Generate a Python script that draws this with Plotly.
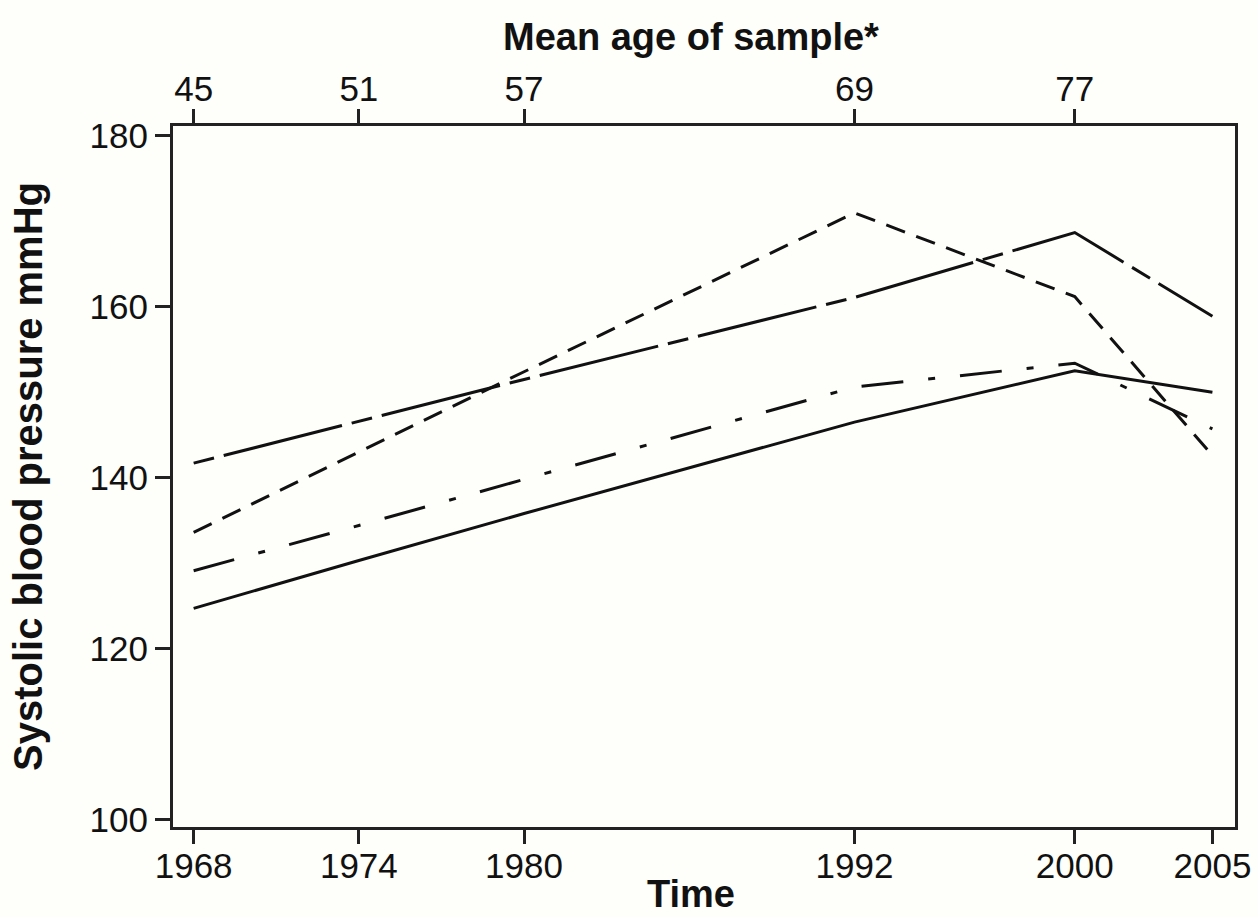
import plotly.graph_objects as go

years = [1968, 1974, 1980, 1992, 2000, 2005]
age_ticks_years = [1968, 1974, 1980, 1992, 2000]
age_labels = ["45", "51", "57", "69", "77"]

series_longshort = [141.7, 146.6, 151.5, 161.1, 168.7, 158.9]
series_shortdash = [133.6, 143.0, 152.4, 171.0, 161.2, 142.6]
series_dashdot = [129.1, 134.4, 139.8, 150.6, 153.4, 145.7]
series_solid = [124.7, 130.3, 135.8, 146.5, 152.5, 150.0]

y_ticks = [100, 120, 140, 160, 180]

FONT = "Liberation Sans, Arial, sans-serif"
INK = "#111111"
AX = "#222222"
BG = "#fefefa"

fig = go.Figure()

styles = [
    (series_longshort, "21px,10px,122px,10px"),
    (series_shortdash, "20px,12px"),
    (series_dashdot, "42px,25px,7px,25px"),
    (series_solid, "solid"),
]
for vals, dash in styles:
    fig.add_trace(go.Scatter(
        x=years, y=vals, mode="lines",
        line=dict(color=INK, width=3, dash=dash),
        showlegend=False, hoverinfo="skip",
    ))

# invisible trace to anchor the top (age) axis
fig.add_trace(go.Scatter(
    x=age_ticks_years, y=[None] * len(age_ticks_years), xaxis="x2", mode="lines",
    showlegend=False, hoverinfo="skip",
))

xr = [1967.25, 2005.82]

fig.update_layout(
    width=1258, height=917,
    margin=dict(l=173, r=23, t=126, b=90, pad=0),
    paper_bgcolor=BG, plot_bgcolor=BG,
    font=dict(family=FONT, color=INK),
    xaxis=dict(
        range=xr, tickmode="array", tickvals=years, ticktext=[str(y) for y in years],
        showgrid=False, zeroline=False, showline=True, linewidth=3, linecolor=AX,
        ticks="outside", ticklen=14, tickwidth=3, tickcolor=AX,
        tickfont=dict(size=35, family=FONT, color=INK), ticklabelstandoff=-8,
        automargin=False,
    ),
    xaxis2=dict(
        range=xr, overlaying="x", side="top", anchor="y",
        tickmode="array", tickvals=age_ticks_years, ticktext=age_labels,
        showgrid=False, zeroline=False, showline=True, linewidth=3, linecolor=AX,
        ticks="outside", ticklen=14, tickwidth=3, tickcolor=AX,
        tickfont=dict(size=35, family=FONT, color=INK), ticklabelstandoff=-6,
        automargin=False,
    ),
    yaxis=dict(
        range=[99.10, 181.17], tickmode="array", tickvals=y_ticks,
        showgrid=False, zeroline=False, showline=True, linewidth=3, linecolor=AX, mirror=True,
        ticks="outside", ticklen=15, tickwidth=3, tickcolor=AX,
        tickfont=dict(size=35, family=FONT, color=INK), ticklabelstandoff=0,
        title=dict(text="<b>Systolic blood pressure mmHg</b>", font=dict(size=40, family=FONT, color=INK), standoff=35),
        automargin=False,
    ),
    annotations=[
        dict(
            text="<b>Mean age of sample*</b>", xref="paper", yref="paper",
            x=0.488, y=1.127, xanchor="center", yanchor="middle", showarrow=False,
            font=dict(size=38, family=FONT, color=INK),
        ),
        dict(
            text="<b>Time</b>", xref="paper", yref="paper",
            x=0.488, y=-0.096, xanchor="center", yanchor="middle", showarrow=False,
            font=dict(size=38, family=FONT, color=INK),
        ),
    ],
)

fig.write_html("out.html")
